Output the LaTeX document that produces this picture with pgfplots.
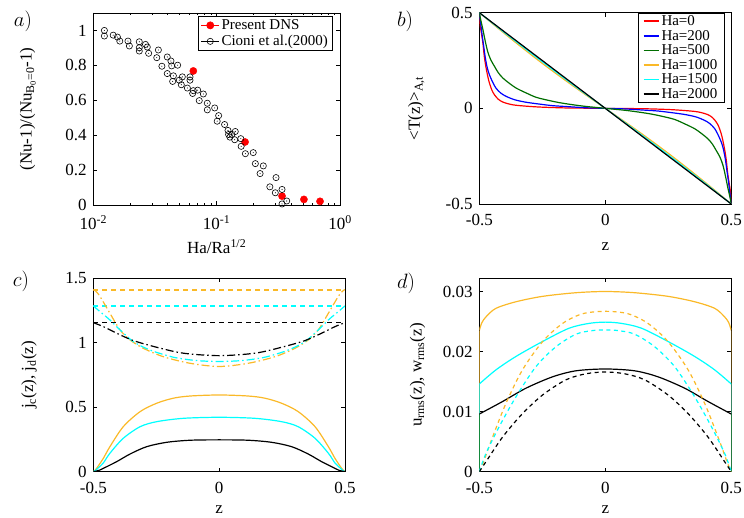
\documentclass[border=0pt]{standalone}
\usepackage{fontspec}
\setmainfont{Liberation Serif}
\usepackage{pgfplots}
\pgfplotsset{compat=1.18}

\definecolor{gred}{RGB}{255,0,0}
\definecolor{gblue}{RGB}{0,0,255}
\definecolor{ggreen}{RGB}{0,110,0}
\definecolor{gorange}{RGB}{250,185,40}
\definecolor{gcyan}{RGB}{0,255,255}

% open circle with a dot in the middle (gnuplot style)
\pgfdeclareplotmark{cdot}{%
  \pgfpathcircle{\pgfpointorigin}{\pgfplotmarksize}\pgfusepathqstroke
  \pgfpathcircle{\pgfpointorigin}{0.55pt}\pgfusepathqfill}

\pgfplotsset{
  panel/.style={
    scale only axis,
    tick align=inside,
    major tick length=4pt, minor tick length=2pt,
    axis line style={line width=0.8pt},
    every tick/.style={black, line width=0.6pt},
    tick label style={font=\fontsize{17}{17}\selectfont, inner sep=1pt},
    xticklabel style={yshift=-9.5pt},
    yticklabel style={xshift=-5.5pt},
    label style={font=\fontsize{17}{17}\selectfont},
  },
  curve/.style={line width=1.2pt, smooth, no marks},
  dashd/.style={dash pattern=on 4pt off 3.5pt},
  dashdot/.style={dash pattern=on 8pt off 3pt on 1.5pt off 3pt},
}

\begin{document}
\begin{tikzpicture}
\useasboundingbox (0pt,0pt) rectangle (744pt,518pt);

% ---------------- a) ----------------
\begin{axis}[panel,
    at={(93.3pt,313pt)}, anchor=south west,
    width=246.7pt, height=192pt,
    xmode=log, xmin=0.01, xmax=1, ymin=0, ymax=1.1,
    xtick={0.01,0.1,1},
    xticklabels={10\textsuperscript{-2},10\textsuperscript{-1},10\textsuperscript{0}},
    ytick={0,0.2,0.4,0.6,0.8,1},
    yticklabels={0,0.2,0.4,0.6,0.8,1},
    xlabel={Ha/Ra\textsuperscript{1/2}},
    ylabel={(Nu-1)/(Nu\textsubscript{B\textsubscript{0}=0}-1)},
    xlabel style={at={(axis description cs:0.5,-0.218)}, anchor=center},
    ylabel style={at={(axis description cs:-0.265,0.5)}, anchor=center},
    legend style={at={(0.972,0.984)}, anchor=north east, draw=black,
      line width=0.6pt, font=\fontsize{15}{15}\selectfont,
      inner xsep=3pt, inner ysep=1pt, row sep=0pt,
      nodes={inner xsep=2pt, inner ysep=1.5pt, text height=10.5pt, text depth=2.5pt}},
    legend cell align=left,
    legend image code/.code={\path (0pt,0pt) -- (18pt,0pt);
      \draw[#1] plot coordinates {(9pt,0pt)};},
]
\addplot[only marks, mark=*, mark size=3.6pt, color=gred] coordinates {
  (0.0647,0.768) (0.170,0.361) (0.339,0.051) (0.510,0.032) (0.689,0.021)
};
\addlegendentry{Present DNS}
\addplot[only marks, mark=cdot, mark size=3.1pt, black, mark options={line width=0.6pt}] coordinates {
  (0.0123,1.0) (0.0123,0.968) (0.0145,0.973) (0.0157,0.962) (0.0164,0.939)
  (0.0191,0.939) (0.0196,0.911) (0.0236,0.935) (0.0236,0.901) (0.0236,0.882)
  (0.0265,0.920) (0.0274,0.905) (0.0281,0.869) (0.0337,0.888) (0.0327,0.844)
  (0.0360,0.795) (0.0398,0.848) (0.0398,0.753) (0.0426,0.825) (0.0432,0.797)
  (0.0483,0.801) (0.0446,0.740) (0.0440,0.708) (0.0498,0.715) (0.0517,0.689)
  (0.0527,0.734) (0.0579,0.670) (0.0608,0.734) (0.0608,0.715) (0.0639,0.639)
  (0.0647,0.655) (0.0702,0.658) (0.0723,0.598) (0.0780,0.636) (0.0840,0.583)
  (0.0840,0.545) (0.0964,0.556) (0.1038,0.512) (0.1010,0.480) (0.1160,0.461)
  (0.1236,0.427) (0.1250,0.404) (0.1280,0.389) (0.1330,0.404) (0.1416,0.421)
  (0.1400,0.374) (0.1570,0.380) (0.1580,0.336) (0.1710,0.294) (0.1980,0.300)
  (0.2060,0.237) (0.2250,0.180) (0.2390,0.224) (0.2700,0.104) (0.3030,0.157)
  (0.2990,0.070) (0.3390,0.089) (0.3390,0.006) (0.3700,0.023)
};
\addlegendentry{Cioni et al.(2000)}
\end{axis}
\node at (23pt,497pt) {\fontsize{22}{22}\selectfont$a)$};

% ---------------- b) ----------------
\begin{axis}[panel,
    at={(479.3pt,314pt)}, anchor=south west,
    width=252pt, height=191.3pt,
    xmin=-0.5, xmax=0.5, ymin=-0.5, ymax=0.5,
    xtick={-0.5,0,0.5}, xticklabels={-0.5,0,0.5},
    ytick={-0.5,0,0.5}, yticklabels={-0.5,0,0.5},
    xlabel={z},
    ylabel={\textless T(z)\textgreater\textsubscript{A,t}},
    xlabel style={at={(axis description cs:0.5,-0.225)}, anchor=center},
    ylabel style={at={(axis description cs:-0.25,0.5)}, anchor=center},
    legend style={at={(0.974,0.997)}, anchor=north east, draw=black,
      line width=0.6pt, font=\fontsize{15}{15}\selectfont,
      inner xsep=5pt, inner ysep=1pt, row sep=0.6pt,
      nodes={inner xsep=2pt, inner ysep=1pt, text height=10pt, text depth=2pt}},
    legend cell align=left,
    legend image code/.code={\draw[#1, line width=1.6pt] (0pt,0.3pt) -- (15pt,0.3pt);},
]
\addplot[curve, color=gred] coordinates {
  (-0.5,0.5) (-0.496,0.43) (-0.4866,0.35) (-0.48,0.27) (-0.473,0.211)
  (-0.466,0.165) (-0.46,0.133) (-0.45,0.095) (-0.44,0.071) (-0.425,0.048)
  (-0.407,0.033) (-0.38,0.022) (-0.354,0.016) (-0.3,0.01) (-0.248,0.006)
  (-0.15,0.002) (0,0) (0.15,-0.002) (0.248,-0.006) (0.3,-0.01)
  (0.354,-0.016) (0.38,-0.022) (0.407,-0.033) (0.425,-0.048) (0.44,-0.071)
  (0.45,-0.095) (0.46,-0.133) (0.466,-0.165) (0.473,-0.211) (0.48,-0.27)
  (0.4866,-0.35) (0.496,-0.43) (0.5,-0.5)
};
\addlegendentry{Ha=0}
\addplot[curve, color=gblue] coordinates {
  (-0.5,0.5) (-0.495,0.45) (-0.489,0.385) (-0.482,0.32) (-0.476,0.263)
  (-0.468,0.21) (-0.46,0.176) (-0.447,0.137) (-0.434,0.106) (-0.415,0.08)
  (-0.394,0.063) (-0.36,0.045) (-0.315,0.032) (-0.26,0.022) (-0.209,0.014)
  (-0.15,0.009) (-0.077,0.003) (0,0) (0.077,-0.003) (0.15,-0.009)
  (0.209,-0.014) (0.26,-0.022) (0.315,-0.032) (0.36,-0.045) (0.394,-0.063)
  (0.415,-0.08) (0.434,-0.106) (0.447,-0.137) (0.46,-0.176) (0.468,-0.21)
  (0.476,-0.263) (0.482,-0.32) (0.489,-0.385) (0.495,-0.45) (0.5,-0.5)
};
\addlegendentry{Ha=200}
\addplot[curve, color=ggreen] coordinates {
  (-0.5,0.5) (-0.494,0.46) (-0.487,0.42) (-0.477,0.355) (-0.467,0.298)
  (-0.455,0.255) (-0.44,0.22) (-0.425,0.187) (-0.407,0.159) (-0.38,0.13)
  (-0.354,0.106) (-0.315,0.081) (-0.275,0.058) (-0.23,0.043) (-0.183,0.03)
  (-0.13,0.019) (-0.077,0.01) (0,0) (0.077,-0.01) (0.13,-0.019)
  (0.183,-0.03) (0.23,-0.043) (0.275,-0.058) (0.315,-0.081) (0.354,-0.106)
  (0.38,-0.13) (0.407,-0.159) (0.425,-0.187) (0.44,-0.22) (0.455,-0.255)
  (0.467,-0.298) (0.477,-0.355) (0.487,-0.42) (0.494,-0.46) (0.5,-0.5)
};
\addlegendentry{Ha=500}
\addplot[curve, color=gorange] coordinates {
  (-0.5,0.5) (-0.45,0.445) (-0.4,0.391) (-0.35,0.338) (-0.3,0.286)
  (-0.25,0.235) (-0.2,0.186) (-0.15,0.138) (-0.1,0.091) (-0.05,0.045)
  (0,0) (0.05,-0.045) (0.1,-0.091) (0.15,-0.138) (0.2,-0.186)
  (0.25,-0.235) (0.3,-0.286) (0.35,-0.338) (0.4,-0.391) (0.45,-0.445) (0.5,-0.5)
};
\addlegendentry{Ha=1000}
\addplot[curve, color=gcyan] coordinates {
  (-0.5,0.5) (-0.45,0.448) (-0.4,0.396) (-0.35,0.345) (-0.3,0.294)
  (-0.25,0.244) (-0.2,0.194) (-0.15,0.145) (-0.1,0.096) (-0.05,0.048)
  (0,0) (0.05,-0.048) (0.1,-0.096) (0.15,-0.145) (0.2,-0.194)
  (0.25,-0.244) (0.3,-0.294) (0.35,-0.345) (0.4,-0.396) (0.45,-0.448) (0.5,-0.5)
};
\addlegendentry{Ha=1500}
\addplot[curve, color=black] coordinates {
  (-0.5,0.5) (-0.25,0.25) (0,0) (0.25,-0.25) (0.5,-0.5)
};
\addlegendentry{Ha=2000}
\end{axis}
\node at (405pt,497pt) {\fontsize{22}{22}\selectfont$b)$};

% ---------------- c) ----------------
\begin{axis}[panel,
    at={(93.3pt,46.3pt)}, anchor=south west,
    width=251.7pt, height=193.4pt,
    xmin=-0.5, xmax=0.5, ymin=0, ymax=1.5,
    xtick={-0.5,0,0.5}, xticklabels={-0.5,0,0.5},
    ytick={0,0.5,1,1.5}, yticklabels={0,0.5,1,1.5},
    xlabel={z},
    ylabel={j\textsubscript{c}(z), j\textsubscript{d}(z)},
    xlabel style={at={(axis description cs:0.5,-0.196)}, anchor=center},
    ylabel style={at={(axis description cs:-0.255,0.5)}, anchor=center},
]
% dashed
\addplot[line width=1.8pt, dash pattern=on 5pt off 4pt, color=gorange] coordinates {(-0.5,1.409) (0.5,1.409)};
\addplot[line width=1.6pt, dash pattern=on 5pt off 4pt, color=gcyan] coordinates {(-0.5,1.286) (0.5,1.286)};
\addplot[line width=1.6pt, dash pattern=on 5pt off 4pt, color=black] coordinates {(-0.5,1.156) (0.5,1.156)};
% dash-dot
\addplot[curve, dashdot, color=gorange] coordinates {
  (-0.5,1.412) (-0.49,1.40) (-0.473,1.358) (-0.434,1.229) (-0.394,1.10)
  (-0.354,1.022) (-0.301,0.957) (-0.222,0.892) (-0.116,0.841) (0,0.816)
  (0.116,0.841) (0.222,0.892) (0.301,0.957) (0.354,1.022) (0.394,1.10)
  (0.434,1.229) (0.473,1.358) (0.49,1.40) (0.5,1.412)
};
\addplot[curve, dashdot, color=gcyan] coordinates {
  (-0.5,1.286) (-0.473,1.241) (-0.434,1.177) (-0.394,1.10) (-0.341,1.009)
  (-0.275,0.944) (-0.182,0.888) (-0.09,0.862) (0,0.855)
  (0.09,0.862) (0.182,0.888) (0.275,0.944) (0.341,1.009) (0.394,1.10)
  (0.434,1.177) (0.473,1.241) (0.5,1.286)
};
\addplot[curve, dashdot, color=black] coordinates {
  (-0.5,1.156) (-0.46,1.125) (-0.407,1.074) (-0.341,1.017) (-0.248,0.965)
  (-0.142,0.919) (0,0.900) (0.142,0.919) (0.248,0.965) (0.341,1.017)
  (0.407,1.074) (0.46,1.125) (0.5,1.156)
};
% solid
\addplot[curve, color=gorange] coordinates {
  (-0.5,0) (-0.49,0.018) (-0.48,0.045) (-0.46,0.104) (-0.434,0.194)
  (-0.381,0.349) (-0.314,0.466) (-0.248,0.531) (-0.182,0.570) (-0.115,0.587)
  (0,0.595) (0.115,0.587) (0.182,0.570) (0.248,0.531) (0.314,0.466)
  (0.381,0.349) (0.434,0.194) (0.46,0.104) (0.48,0.045) (0.49,0.018) (0.5,0)
};
\addplot[curve, color=gcyan] coordinates {
  (-0.5,0) (-0.49,0.012) (-0.48,0.03) (-0.46,0.068) (-0.434,0.143)
  (-0.381,0.259) (-0.314,0.349) (-0.248,0.388) (-0.142,0.414) (0,0.422)
  (0.142,0.414) (0.248,0.388) (0.314,0.349) (0.381,0.259) (0.434,0.143)
  (0.46,0.068) (0.48,0.03) (0.49,0.012) (0.5,0)
};
\addplot[curve, color=black] coordinates {
  (-0.5,0) (-0.49,0.004) (-0.475,0.012) (-0.46,0.026) (-0.407,0.078)
  (-0.354,0.137) (-0.288,0.194) (-0.208,0.228) (-0.115,0.244) (0,0.247)
  (0.115,0.244) (0.208,0.228) (0.288,0.194) (0.354,0.137) (0.407,0.078)
  (0.46,0.026) (0.475,0.012) (0.49,0.004) (0.5,0)
};
\end{axis}
\node at (21pt,237pt) {\fontsize{22}{22}\selectfont$c)$};

% ---------------- d) ----------------
\begin{axis}[panel,
    at={(479.3pt,46.3pt)}, anchor=south west,
    width=252pt, height=193.4pt,
    xmin=-0.5, xmax=0.5, ymin=0, ymax=0.0322,
    xtick={-0.5,0,0.5}, xticklabels={-0.5,0,0.5},
    ytick={0,0.01,0.02,0.03}, yticklabels={0,0.01,0.02,0.03},
    scaled y ticks=false,
    xlabel={z},
    ylabel={u\textsubscript{rms}(z), w\textsubscript{rms}(z)},
    xlabel style={at={(axis description cs:0.5,-0.196)}, anchor=center},
    ylabel style={at={(axis description cs:-0.245,0.5)}, anchor=center},
]
% walls
\addplot[line width=1.2pt, color=gorange] coordinates {(-0.5,0) (-0.5,0.0235)};
\addplot[line width=1.2pt, color=gorange] coordinates {(0.5,0) (0.5,0.0235)};
\addplot[line width=1.2pt, color=gcyan] coordinates {(-0.5,0) (-0.5,0.0146)};
\addplot[line width=1.2pt, color=gcyan] coordinates {(0.5,0) (0.5,0.0146)};
\addplot[line width=1.2pt, color=black!60!green] coordinates {(-0.5,0) (-0.5,0.0096)};
\addplot[line width=1.2pt, color=black!60!green] coordinates {(0.5,0) (0.5,0.0096)};
% solid
\addplot[curve, color=gorange] coordinates {
  (-0.5,0.0235) (-0.49,0.0248) (-0.473,0.0258) (-0.434,0.0272) (-0.354,0.0283)
  (-0.248,0.0292) (-0.116,0.0298) (0,0.0300) (0.116,0.0298) (0.248,0.0292)
  (0.354,0.0283) (0.434,0.0272) (0.473,0.0258) (0.49,0.0248) (0.5,0.0235)
};
\addplot[curve, color=gcyan] coordinates {
  (-0.5,0.0146) (-0.434,0.01695) (-0.354,0.0192) (-0.248,0.0217) (-0.143,0.0239)
  (-0.063,0.0247) (0,0.0249) (0.063,0.0247) (0.143,0.0239) (0.248,0.0217)
  (0.354,0.0192) (0.434,0.01695) (0.5,0.0146)
};
\addplot[curve, color=black] coordinates {
  (-0.5,0.0096) (-0.407,0.0117) (-0.315,0.0139) (-0.209,0.0158) (-0.116,0.0168)
  (0,0.0171) (0.116,0.0168) (0.209,0.0158) (0.315,0.0139) (0.407,0.0117)
  (0.5,0.0096)
};
% dashed
\addplot[curve, dashd, color=gorange] coordinates {
  (-0.5,0) (-0.489,0.001) (-0.48,0.002) (-0.447,0.0058) (-0.394,0.0114)
  (-0.328,0.0170) (-0.248,0.0217) (-0.169,0.0247) (-0.09,0.0263) (0,0.0267)
  (0.09,0.0263) (0.169,0.0247) (0.248,0.0217) (0.328,0.0170) (0.394,0.0114)
  (0.447,0.0058) (0.48,0.002) (0.489,0.001) (0.5,0)
};
\addplot[curve, dashd, color=gcyan] coordinates {
  (-0.5,0) (-0.473,0.0031) (-0.421,0.0075) (-0.354,0.0125) (-0.275,0.0175)
  (-0.196,0.0208) (-0.116,0.0229) (-0.05,0.0235) (0,0.0236) (0.05,0.0235)
  (0.116,0.0229) (0.196,0.0208) (0.275,0.0175) (0.354,0.0125) (0.421,0.0075)
  (0.473,0.0031) (0.5,0)
};
\addplot[curve, dashd, color=black] coordinates {
  (-0.5,0) (-0.473,0.0017) (-0.407,0.0058) (-0.328,0.0097) (-0.248,0.0128)
  (-0.156,0.0153) (-0.077,0.0163) (0,0.0166) (0.077,0.0163) (0.156,0.0153)
  (0.248,0.0128) (0.328,0.0097) (0.407,0.0058) (0.473,0.0017) (0.5,0)
};
\end{axis}
\node at (406pt,235pt) {\fontsize{22}{22}\selectfont$d)$};
\end{tikzpicture}
\end{document}
